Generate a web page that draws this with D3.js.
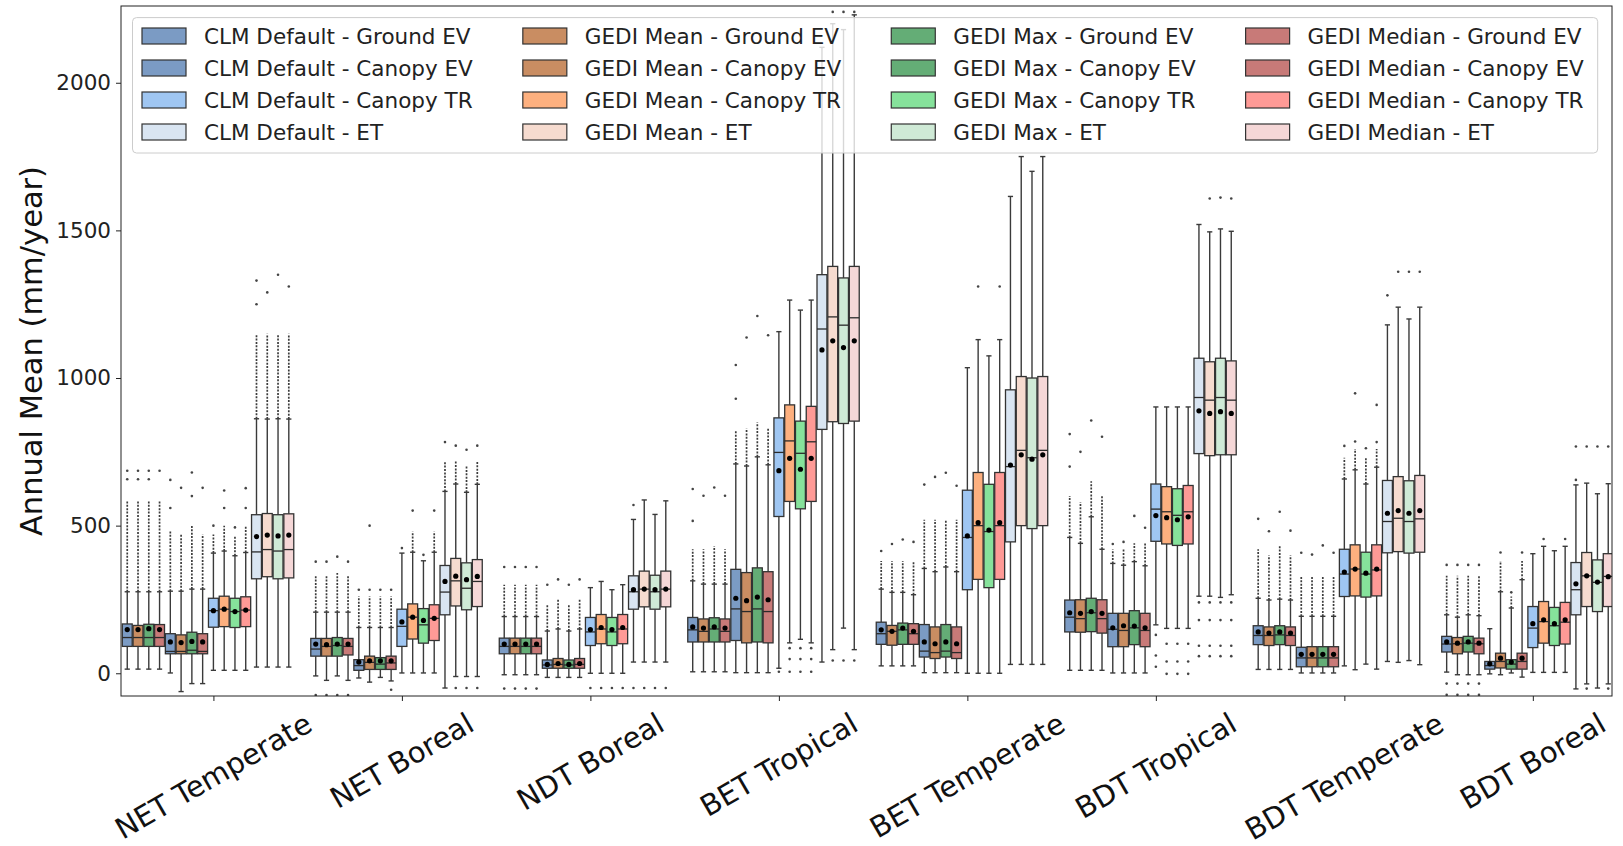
<!DOCTYPE html>
<html>
<head>
<meta charset="utf-8">
<script src="https://cdn.jsdelivr.net/npm/d3@7"></script>
<style>
  body { margin: 0; background: #fff; }
  svg { font-family: "DejaVu Sans", sans-serif; }
</style>
</head>
<body>
<svg id="chart" width="1623" height="846"></svg>
<script>
// categories
var pfts = ["NET Temperate", "NET Boreal", "NDT Boreal", "BET Tropical",
            "BET Temperate", "BDT Tropical", "BDT Temperate", "BDT Boreal"];
var components = ["Ground EV", "Canopy EV", "Canopy TR", "ET"];
var models = ["CLM Default", "GEDI Mean", "GEDI Max", "GEDI Median"];
var yTicks = [0, 500, 1000, 1500, 2000];

// per pft: 16 boxes, ordered component by component, 4 models each
var q1Vals = [
  [91,91,91,91, 66,66,66,66, 156,158,155,158, 320,327,320,323],
  [58,58,58,62, 10,13,13,13, 91,116,102,111, 198,228,215,226],
  [66,66,66,66, 17,17,17,17, 94,100,94,100, 217,225,217,225],
  [106,106,106,106, 111,103,106,103, 531,582,557,582, 826,852,846,854],
  [98,95,98,98, 55,50,55,50, 283,318,290,318, 445,500,490,500],
  [140,139,141,136, 90,90,97,90, 447,438,433,438, 744,737,740,740],
  [97,94,97,94, 22,22,22,22, 260,262,258,262, 408,412,407,410],
  [72,66,72,66, 14,18,14,14, 87,102,94,99, 198,226,209,226]
];
var medianVals = [
  [121,121,121,121, 74,74,78,74, 212,217,209,214, 411,419,414,419],
  [82,91,94,91, 26,37,31,35, 159,190,164,186, 275,313,288,311],
  [91,91,91,91, 28,30,28,30, 140,150,140,150, 276,285,276,285],
  [147,142,150,142, 218,209,218,209, 748,787,745,784, 1166,1207,1179,1204],
  [134,142,147,134, 75,70,75,70, 460,500,480,500, 700,755,730,755],
  [190,185,205,185, 149,145,154,145, 556,547,535,547, 934,925,934,925],
  [128,128,130,128, 52,52,52,52, 336,353,336,350, 514,525,514,523],
  [99,100,102,100, 26,40,31,40, 153,175,161,173, 283,330,308,328]
];
var q3Vals = [
  [167,162,166,165, 134,130,139,134, 254,261,254,259, 537,541,537,540],
  [118,118,121,118, 46,58,53,58, 217,235,219,232, 365,389,374,385],
  [119,119,119,119, 45,50,45,50, 189,199,189,199, 330,346,332,346],
  [189,184,188,184, 352,341,357,344, 865,909,854,904, 1350,1378,1339,1378],
  [173,162,170,168, 165,157,165,157, 620,680,640,680, 960,1005,1000,1005],
  [248,249,254,249, 203,203,212,203, 641,632,625,636, 1067,1055,1067,1058],
  [161,157,161,157, 88,90,90,90, 420,435,410,435, 653,666,652,670],
  [125,121,125,119, 40,68,46,68, 226,243,223,240, 375,409,384,405]
];
var meanVals = [
  [148,148,151,148, 106,104,108,106, 212,217,209,214, 463,468,465,468],
  [99,97,99,99, 38,42,42,42, 174,190,179,186, 311,329,317,328],
  [99,99,99,99, 30,33,30,33, 148,155,148,155, 283,285,283,285],
  [157,153,157,153, 254,246,258,249, 686,728,691,728, 1095,1126,1103,1126],
  [147,142,153,142, 106,100,106,100, 465,510,485,510, 705,740,725,740],
  [205,203,209,203, 154,161,160,154, 534,527,520,530, 889,880,886,880],
  [140,136,140,136, 64,64,64,64, 343,353,339,353, 542,551,542,551],
  [106,102,106,102, 32,51,38,51, 168,181,168,181, 303,330,309,327]
];
var whiskerLo = [
  [14,14,14,14, 1,-62,-35,-35, 10,10,10,10, 21,21,21,21],
  [-9,-24,-9,-24, -16,-30,-14,-26, 1,1,1,1, -50,-11,-11,-11],
  [-5,-5,-5,-5, -14,-14,-14,-14, 0,0,0,0, 38,38,38,38],
  [5,5,5,5, 2,2,2,2, 17,103,115,103, 38,80,153,80],
  [25,25,25,25, 2,2,2,2, 0,0,0,0, 30,30,30,30],
  [10,10,10,10, 1,1,1,1, 164,152,152,152, 261,261,257,266],
  [13,13,13,13, 1,1,1,1, 25,12,31,14, 40,37,43,29],
  [4,-5,-5,-5, -2,-5,1,-13, 3,3,3,3, -53,-36,-50,-36]
];
var whiskerHi = [
  [276,276,276,276, 278,278,285,285, 407,414,398,409, 862,861,862,861],
  [207,207,207,207, 155,155,155,155, 407,410,381,410, 616,641,613,640],
  [192,192,192,192, 143,150,143,150, 290,311,283,300, 521,587,538,584],
  [313,302,302,302, 709,702,733,706, 1157,1264,1230,1264, 2120,2200,2180,2230],
  [285,274,274,266, 355,344,360,344, 1035,1130,1075,1130, 1615,1750,1700,1750],
  [460,440,530,420, 372,366,378,364, 902,902,902,902, 1520,1495,1505,1497],
  [254,248,251,248, 193,193,193,193, 658,689,641,698, 1180,1240,1200,1240],
  [198,190,198,195, 151,276,221,317, 405,430,415,430, 638,644,608,642]
];
// top of the dense run of outliers above each upper whisker
var denseTop = [
  [587,587,587,587, 480,470,500,470, 470,500,465,500, 1150,1150,1150,1150],
  [330,330,340,330, 260,260,260,260, 407,480,381,480, 720,720,700,720],
  [300,300,300,300, 230,250,230,250, 290,311,283,300, 521,587,538,584],
  [420,420,430,420, 820,830,850,830, 1157,1264,1230,1264, 2120,2200,2180,2230],
  [380,380,380,380, 520,520,520,520, 1035,1130,1075,1130, 1615,1750,1700,1750],
  [600,580,650,600, 420,420,440,440, 902,902,902,902, 1520,1495,1505,1497],
  [420,400,430,400, 330,330,330,330, 730,760,730,760, 1180,1240,1200,1240],
  [330,330,330,330, 151,380,260,380, 405,430,415,430, 638,644,608,642]
];
var outliersHi = [
  [[657,686],[657,686],[657,686],[686], [560,655],[628],[600,680],[628], [500],[560,619],[494],[560,627], [1250,1330],[1290],[1350],[1310]],
  [[378],[378],[395],[378], [283],[283,500],[283],[283], [424],[551],[401],[551], [783],[771],[757],[771]],
  [[360],[360],[360],[360], [300],[318],[300],[318], [],[],[],[], [570],[],[],[]],
  [[516,624],[601],[629],[601], [930,1044],[1137],[1210],[1145], [],[],[],[], [],[2240],[2240],[2240]],
  [[414],[438],[453],[445], [639],[665],[679],[635], [],[1310],[],[1310], [],[],[],[]],
  [[700,810],[750],[856],[801], [438],[445],[533],[493], [],[],[],[], [],[1608],[1611],[1608]],
  [[523],[481],[547],[483], [408],[402],[433],[408], [770],[785,948],[762],[783,909], [1280],[1360],[1360],[1360]],
  [[367],[367],[367],[367], [],[409],[274],[409], [],[455],[],[455], [655,768],[768],[768],[768]]
];
var outliersLo = [
  [[],[],[],[], [],[],[],[], [],[],[],[], [],[],[],[]],
  [[-74],[-74],[-74],[-74], [],[],[],[-56], [],[],[],[], [],[-50],[-50],[-50]],
  [[-52],[-52],[-52],[-52], [],[],[],[], [-50],[-50],[-50],[-50], [-50],[-50],[-50],[-50]],
  [[],[],[],[], [],[],[],[], [5],[85,48,5],[85,48,5],[85,48,5], [],[43],[43],[43]],
  [[],[],[],[], [],[],[],[], [],[],[],[], [],[],[],[]],
  [[],[],[],[], [],[],[],[], [130,60,22],[100,40,-2],[100,40,-2],[100,40,-2], [240,180,93,58],[240,180,93,58],[240,180,93,58],[240,180,93,58]],
  [[],[],[],[], [],[],[],[], [],[],[],[], [],[],[],[]],
  [[-35,-73],[-35,-73],[-35,-73],[-35,-73], [],[],[],[], [],[],[],[], [],[-52],[],[-52]]
];

// fill colours, [component][model]
var fills = [
  ["#7b9bc4", "#c98d62", "#64ad76", "#c87a78"],
  ["#7b9bc4", "#c98d62", "#64ad76", "#c87a78"],
  ["#9fc6f2", "#fdb07f", "#86e29b", "#fe9a96"],
  ["#d9e5f2", "#f6dbcf", "#cfead6", "#f5d7d7"]
];

var svg = d3.select("#chart");
var plotL = 121, plotR = 1612, plotT = 6, plotB = 696;

var x = d3.scaleLinear().domain([-0.58, 137.85]).range([plotL, plotR]);
var y = d3.scaleLinear().domain([-77, 2260]).range([plotB, plotT]);
var bw = x(0.92) - x(0);
var cap = 2.6;

var boxes = [];
pfts.forEach(function(p, i) {
  components.forEach(function(c, ci) {
    models.forEach(function(m, mi) {
      var j = ci * 4 + mi;
      boxes.push({
        pos: i * 17.5 + j, ci: ci, mi: mi,
        q1: q1Vals[i][j], med: medianVals[i][j], q3: q3Vals[i][j], mean: meanVals[i][j],
        lo: whiskerLo[i][j], hi: whiskerHi[i][j], dense: denseTop[i][j],
        outHi: outliersHi[i][j], outLo: outliersLo[i][j]
      });
    });
  });
});

svg.append("clipPath").attr("id", "plot")
  .append("rect").attr("x", plotL).attr("y", plotT)
  .attr("width", plotR - plotL).attr("height", plotB - plotT);

var g = svg.append("g").attr("clip-path", "url(#plot)");

var bx = g.selectAll(".box").data(boxes).enter().append("g").attr("class", "box");

// whiskers
bx.append("line")
  .attr("x1", function(d) { return x(d.pos); }).attr("x2", function(d) { return x(d.pos); })
  .attr("y1", function(d) { return y(d.q3); }).attr("y2", function(d) { return y(d.hi); })
  .attr("stroke", "#3a3a3a").attr("stroke-width", 1.4);
bx.append("line")
  .attr("x1", function(d) { return x(d.pos); }).attr("x2", function(d) { return x(d.pos); })
  .attr("y1", function(d) { return y(d.q1); }).attr("y2", function(d) { return y(d.lo); })
  .attr("stroke", "#3a3a3a").attr("stroke-width", 1.4);
bx.append("line")
  .attr("x1", function(d) { return x(d.pos) - cap; }).attr("x2", function(d) { return x(d.pos) + cap; })
  .attr("y1", function(d) { return y(d.hi); }).attr("y2", function(d) { return y(d.hi); })
  .attr("stroke", "#3a3a3a").attr("stroke-width", 1.4);
bx.append("line")
  .attr("x1", function(d) { return x(d.pos) - cap; }).attr("x2", function(d) { return x(d.pos) + cap; })
  .attr("y1", function(d) { return y(d.lo); }).attr("y2", function(d) { return y(d.lo); })
  .attr("stroke", "#3a3a3a").attr("stroke-width", 1.4);

// dense outlier runs
bx.filter(function(d) { return d.dense > d.hi; }).append("line")
  .attr("x1", function(d) { return x(d.pos); }).attr("x2", function(d) { return x(d.pos); })
  .attr("y1", function(d) { return y(d.hi); }).attr("y2", function(d) { return y(d.dense); })
  .attr("stroke", "#3c3c3c").attr("stroke-width", 1.7)
  .attr("stroke-dasharray", "2,1.4");

// single outliers
bx.selectAll(".flier")
  .data(function(d) { return d.outHi.concat(d.outLo).map(function(v) { return {pos: d.pos, v: v}; }); })
  .enter().append("circle")
  .attr("cx", function(d) { return x(d.pos); })
  .attr("cy", function(d) { return y(d.v); })
  .attr("r", 1.3).attr("fill", "#444");

// boxes
bx.append("rect")
  .attr("x", function(d) { return x(d.pos) - bw / 2; })
  .attr("y", function(d) { return y(d.q3); })
  .attr("width", bw)
  .attr("height", function(d) { return y(d.q1) - y(d.q3); })
  .attr("fill", function(d) { return fills[d.ci][d.mi]; })
  .attr("stroke", "#333").attr("stroke-width", 1.3);
bx.append("line")
  .attr("x1", function(d) { return x(d.pos) - bw / 2; }).attr("x2", function(d) { return x(d.pos) + bw / 2; })
  .attr("y1", function(d) { return y(d.med); }).attr("y2", function(d) { return y(d.med); })
  .attr("stroke", "#2a2a2a").attr("stroke-width", 1.3);
bx.append("circle")
  .attr("cx", function(d) { return x(d.pos); })
  .attr("cy", function(d) { return y(d.mean); })
  .attr("r", 2.6).attr("fill", "#000");

// axes
var yAxis = svg.append("g")
  .attr("transform", "translate(" + plotL + ",0)")
  .call(d3.axisLeft(y).tickValues(yTicks).tickSize(5).tickPadding(5).tickFormat(d3.format("d")));
yAxis.select(".domain").remove();
yAxis.selectAll("text").attr("font-size", "21.5px").attr("fill", "#222")
  .attr("font-family", "DejaVu Sans, sans-serif");
yAxis.selectAll("line").attr("stroke", "#222");

var xAxis = svg.append("g")
  .attr("transform", "translate(0," + plotB + ")")
  .call(d3.axisBottom(x).tickValues(pfts.map(function(p, i) { return i * 17.5 + 8; }))
    .tickSize(5).tickFormat(""));
xAxis.select(".domain").remove();
xAxis.selectAll("line").attr("stroke", "#222");

svg.append("rect")
  .attr("x", plotL).attr("y", plotT)
  .attr("width", plotR - plotL).attr("height", plotB - plotT)
  .attr("fill", "none").attr("stroke", "#222").attr("stroke-width", 1);

// rotated category labels
pfts.forEach(function(p, i) {
  var t = svg.append("text")
    .attr("font-size", "29px").attr("fill", "#111")
    .attr("text-anchor", "middle").attr("dominant-baseline", "central")
    .text(p);
  var L = t.node().getComputedTextLength();
  var ext = L * 0.5 + 29 * 1.1 * 0.866;
  t.attr("transform", "translate(" + x(i * 17.5 + 8) + "," + (707 + ext / 2) + ") rotate(-30)");
});

svg.append("text")
  .attr("transform", "translate(31," + (plotT + plotB) / 2 + ") rotate(-90)")
  .attr("text-anchor", "middle").attr("dominant-baseline", "central")
  .attr("font-size", "30.5px").attr("fill", "#111")
  .text("Annual Mean (mm/year)");

// legend
var lg = svg.append("g");
var lgBox = lg.append("rect")
  .attr("x", 132.5).attr("y", 17.6).attr("height", 135.4).attr("rx", 4)
  .attr("fill", "#fff").attr("fill-opacity", 0.8)
  .attr("stroke", "#cccccc").attr("stroke-width", 1);
var rowY = [36, 68, 100, 132];
var colX = 142, lastEnd = 0;
models.forEach(function(m, mi) {
  var maxW = 0;
  components.forEach(function(c, ci) {
    lg.append("rect")
      .attr("x", colX).attr("y", rowY[ci] - 8)
      .attr("width", 44).attr("height", 16)
      .attr("fill", fills[ci][mi]).attr("stroke", "#333").attr("stroke-width", 1.2);
    var t = lg.append("text")
      .attr("x", colX + 62).attr("y", rowY[ci])
      .attr("dominant-baseline", "central")
      .attr("font-size", "21.5px").attr("fill", "#222")
      .text(m + " - " + c);
    maxW = Math.max(maxW, t.node().getComputedTextLength());
  });
  lastEnd = colX + 62 + maxW;
  colX = lastEnd + 50;
});
lgBox.attr("width", lastEnd + 14 - 132.5);
</script>
</body>
</html>
